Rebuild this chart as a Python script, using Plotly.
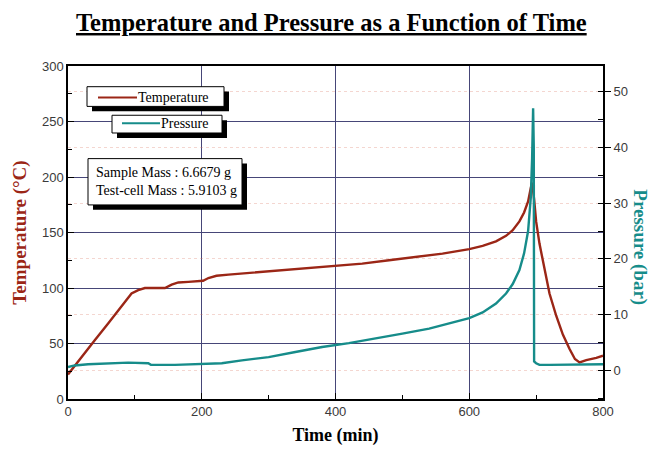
import plotly.graph_objects as go

# ---------------- data ----------------
temp_time = [0, 5, 20, 40, 60, 80, 95, 105, 115, 130, 145, 155, 165, 180, 195, 202, 210, 222, 240,
             280, 320, 360, 400, 440, 480, 520, 560, 600, 620, 640, 655, 665, 675, 682, 688, 692,
             694, 697, 700, 705, 712, 720, 730, 740, 750, 758, 765, 775, 790, 800]
temp_val = [22, 26, 38, 53, 68, 84, 95, 98, 100, 100, 100, 103, 105, 105.5, 106, 106.5, 109, 111, 112,
            114, 116, 118, 120, 122, 125, 128, 131, 135, 138, 142, 147, 152, 160, 168, 178, 190,
            195, 180, 160, 140, 118, 95, 75, 58, 45, 36, 33, 35, 37, 39]

pres_time = [0, 10, 30, 60, 90, 120, 124, 160, 200, 230, 260, 300, 340, 380, 420, 460, 500, 540,
             580, 600, 620, 640, 655, 665, 675, 682, 688, 692, 694, 695.5, 696.5, 697, 700, 705,
             720, 760, 800]
pres_val = [0.6, 0.9, 1.1, 1.3, 1.4, 1.3, 1.0, 1.0, 1.1, 1.3, 1.8, 2.4, 3.3, 4.2, 4.9, 5.7, 6.6, 7.5,
            8.8, 9.4, 10.4, 12, 13.8, 15.5, 18, 21, 25, 31, 38, 47, 40, 1.6, 1.3, 1.0, 1.0, 1.1, 1.1]

x_ticks = [0, 200, 400, 600, 800]
t_ticks = [0, 50, 100, 150, 200, 250, 300]
p_ticks = [0, 10, 20, 30, 40, 50]

TEMP_C = "rgb(155,38,22)"
PRES_C = "rgb(22,140,138)"
GRID_C = "rgb(70,70,120)"
SERIF = "Liberation Serif, Times New Roman, serif"
SANS = "Liberation Sans, Arial, sans-serif"

fig = go.Figure()
fig.add_trace(go.Scatter(x=temp_time, y=temp_val, mode="lines", name="Temperature",
                         line=dict(color=TEMP_C, width=2.4), yaxis="y"))
fig.add_trace(go.Scatter(x=pres_time, y=pres_val, mode="lines", name="Pressure",
                         line=dict(color=PRES_C, width=2.4), yaxis="y2"))

W, H = 655, 454
L, R, T, B = 68, 52, 66, 50
PW, PH = W - L - R, H - T - B


def px(x):
    return (x - L) / PW


def py(y):
    return (H - B - y) / PH


fig.update_layout(
    width=W, height=H, margin=dict(l=L, r=R, t=T, b=B),
    paper_bgcolor="white", plot_bgcolor="white", showlegend=False,
    xaxis=dict(range=[0, 800], tickvals=x_ticks, showgrid=True, gridcolor=GRID_C, gridwidth=1,
               zeroline=False, showline=True, linecolor="black", linewidth=1.5, mirror=True,
               ticks="inside", ticklen=6, tickcolor="black",
               minor=dict(dtick=100, ticks="inside", ticklen=4, tickcolor="black", showgrid=False),
               tickfont=dict(family=SANS, size=13, color="#3a3a3a"),
               title=dict(text="<b>Time (min)</b>", font=dict(family=SERIF, size=18, color="black"),
                          standoff=10)),
    yaxis=dict(range=[0, 300], tickvals=t_ticks, showgrid=True, gridcolor=GRID_C, gridwidth=1,
               zeroline=False, showline=True, linecolor="black", linewidth=1.5, mirror=True,
               ticks="inside", ticklen=6, tickcolor="black",
               minor=dict(dtick=25, ticks="inside", ticklen=4, tickcolor="black", showgrid=False),
               tickfont=dict(family=SANS, size=13, color="#3a3a3a"),
               title=dict(text="<b>Temperature (°C)</b>", font=dict(family=SERIF, size=19, color=TEMP_C),
                          standoff=10)),
    yaxis2=dict(range=[-5.12, 54.6], overlaying="y", side="right", tickvals=p_ticks,
                showgrid=True, gridcolor="rgba(220,120,100,0.3)", griddash="dot", gridwidth=1,
                zeroline=False, showline=False,
                ticks="outside", ticklen=7, tickcolor="black",
                minor=dict(dtick=5, ticks="inside", ticklen=5, tickcolor="black", showgrid=False),
                tickfont=dict(family=SANS, size=13, color="#3a3a3a")),
)

# title
fig.add_annotation(text="<b><u>Temperature and Pressure as a Function of Time</u></b>",
                   xref="paper", yref="paper", x=px(331), y=py(22), showarrow=False,
                   font=dict(family=SERIF, size=24.5, color="black"), xanchor="center", yanchor="middle")
# right axis title
fig.add_annotation(text="<b>Pressure (bar)</b>", xref="paper", yref="paper", x=px(640), y=py(250),
                   showarrow=False, textangle=90, font=dict(family=SERIF, size=19, color=PRES_C),
                   xanchor="center", yanchor="middle")


def box(x0, y0, x1, y1, sh=5):
    fig.add_shape(type="rect", xref="paper", yref="paper", x0=px(x0 + sh), x1=px(x1 + sh),
                  y0=py(y1 + sh), y1=py(y0 + sh), fillcolor="black", line=dict(width=0))
    fig.add_shape(type="rect", xref="paper", yref="paper", x0=px(x0), x1=px(x1),
                  y0=py(y1), y1=py(y0), fillcolor="white", line=dict(color="black", width=1))


def seg(x0, x1, y, color):
    fig.add_shape(type="line", xref="paper", yref="paper", x0=px(x0), x1=px(x1), y0=py(y), y1=py(y),
                  line=dict(color=color, width=2))


box(87, 87, 224, 107)
seg(98, 137, 98, TEMP_C)
fig.add_annotation(text="Temperature", xref="paper", yref="paper", x=px(136), y=py(98), showarrow=False,
                   xanchor="left", yanchor="middle", font=dict(family=SERIF, size=14, color="black"))
box(112, 116, 222, 134)
seg(122, 160, 124, PRES_C)
fig.add_annotation(text="Pressure", xref="paper", yref="paper", x=px(159), y=py(124), showarrow=False,
                   xanchor="left", yanchor="middle", font=dict(family=SERIF, size=14, color="black"))
box(88, 160, 242, 207)
fig.add_annotation(text="Sample Mass : 6.6679 g<br>Test-cell Mass : 5.9103 g", xref="paper", yref="paper",
                   x=px(94), y=py(183), showarrow=False, xanchor="left", yanchor="middle", align="left",
                   font=dict(family=SERIF, size=14, color="black"))

fig.write_html("out.html")
